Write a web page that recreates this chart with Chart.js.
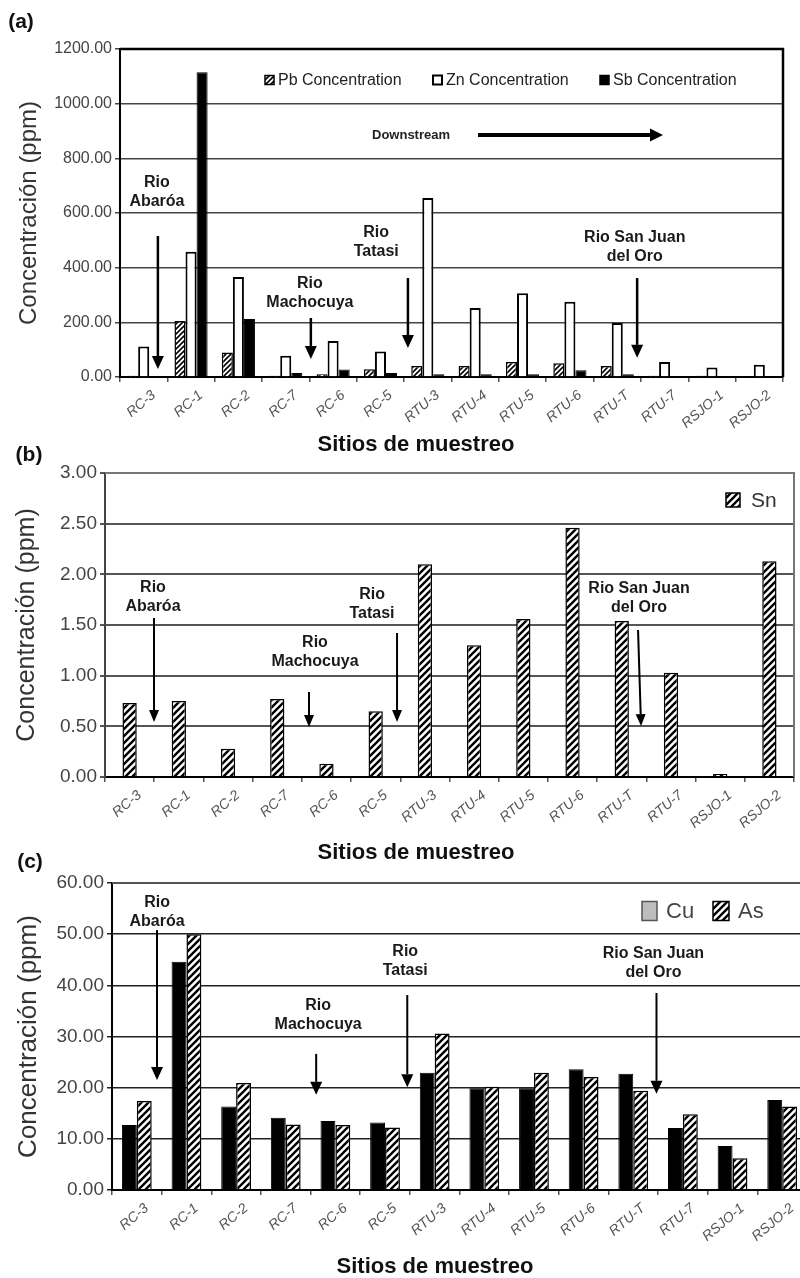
<!DOCTYPE html>
<html><head><meta charset="utf-8">
<script src="https://cdn.jsdelivr.net/npm/chart.js@4.4.0/dist/chart.umd.min.js"></script>
<style>
html,body{margin:0;padding:0;background:#fff;overflow:hidden;width:800px;height:1278px;}
.p{position:absolute;left:0;}
</style></head><body>
<div class="p" style="top:0;width:800px;height:456px"><canvas id="ca"></canvas></div>
<div class="p" style="top:440px;width:800px;height:424px"><canvas id="cb"></canvas></div>
<div class="p" style="top:845px;width:812px;height:433px"><canvas id="cc"></canvas></div>
<script>
// ---------- data ----------
const sites = ['RC-3','RC-1','RC-2','RC-7','RC-6','RC-5','RTU-3','RTU-4','RTU-5','RTU-6','RTU-T','RTU-7','RSJO-1','RSJO-2'];
const pbConc = [5,205,90,5,10,28,40,40,55,50,40,5,5,3];
const znConc = [112,458,366,78,132,93,655,252,306,275,198,55,35,45];
const sbConc = [3,1115,212,15,27,15,10,10,10,25,10,3,2,2];
const snConc = [0.73,0.75,0.28,0.77,0.13,0.65,2.10,1.30,1.56,2.46,1.54,1.03,0.03,2.13];
const cuConc = [12.7,44.6,16.3,14.1,13.5,13.2,22.9,19.9,19.9,23.6,22.7,12.1,8.6,17.6];
const asConc = [17.4,50.0,20.9,12.8,12.7,12.2,30.6,20.2,22.9,22.1,19.4,14.8,6.2,16.3];
const yAxisA = [0, 1200, 200];
const yAxisB = [0, 3, 0.5];
const yAxisC = [0, 60, 10];
const yTitle = 'Concentración (ppm)';
const xTitle = 'Sitios de muestreo';

const FONT = '"Liberation Sans", Arial, sans-serif';

function hatch(period, lw, bg) {
  const c = document.createElement('canvas'); c.width = c.height = period;
  const g = c.getContext('2d');
  g.fillStyle = bg; g.fillRect(0, 0, period, period);
  g.strokeStyle = '#000'; g.lineWidth = lw;
  g.beginPath();
  g.moveTo(-1, period + 1); g.lineTo(period + 1, -1);
  g.moveTo(-period / 2 - 1, period / 2 + 1); g.lineTo(period / 2 + 1, -period / 2 - 1);
  g.moveTo(period / 2 - 1, period * 1.5 + 1); g.lineTo(period * 1.5 + 1, period / 2 - 1);
  g.stroke();
  return g.createPattern(c, 'repeat');
}
const hatchPat = hatch(7, 2.4, '#fff');
const hatchSmall = hatch(5, 1.6, '#fff');

function arrow(ctx, x1, y1, x2, y2, lw, hl, hw) {
  const a = Math.atan2(y2 - y1, x2 - x1), c = Math.cos(a), s = Math.sin(a);
  ctx.lineWidth = lw; ctx.strokeStyle = '#000'; ctx.fillStyle = '#000';
  ctx.beginPath(); ctx.moveTo(x1, y1); ctx.lineTo(x2 - hl * c, y2 - hl * s); ctx.stroke();
  ctx.beginPath(); ctx.moveTo(x2, y2);
  ctx.lineTo(x2 - hl * c + hw / 2 * s, y2 - hl * s - hw / 2 * c);
  ctx.lineTo(x2 - hl * c - hw / 2 * s, y2 - hl * s + hw / 2 * c);
  ctx.closePath(); ctx.fill();
}

function makeDecor(o, datasets) {
  return {
    id: 'decor',
    afterDatasetsDraw(chart) {
      const {ctx, chartArea: ca, scales: {y}} = chart;
      const n = chart.data.labels.length, cw = ca.width / n;
      const X = i => ca.left + (i + 0.5) * cw;
      const Y = v => y.getPixelForValue(v);
      ctx.save();
      // frame (top + right)
      ctx.strokeStyle = o.frameColor; ctx.lineWidth = o.frameWidth;
      ctx.beginPath(); ctx.moveTo(ca.left, ca.top); ctx.lineTo(ca.right, ca.top); ctx.lineTo(ca.right, ca.bottom); ctx.stroke();
      // annotations
      ctx.fillStyle = '#1a1a1a'; ctx.textAlign = 'center'; ctx.textBaseline = 'middle';
      ctx.font = 'bold 16px ' + FONT;
      for (const a of o.notes) a.lines.forEach((t, k) => ctx.fillText(t, X(a.x), Y(a.y) + k * 19));
      for (const r of o.arrows) arrow(ctx, X(r[0]), Y(r[1]), X(r[2]), Y(r[3]), o.arrowLw, o.headL, o.headW);
      if (o.down) {
        ctx.font = 'bold 13px ' + FONT; ctx.fillStyle = '#222';
        ctx.fillText(o.down.text, X(o.down.x), Y(o.down.y));
        arrow(ctx, X(o.down.x1), Y(o.down.y), X(o.down.x2), Y(o.down.y), 4, 13, 13);
      }
      // legend
      ctx.font = o.legend.font + ' ' + FONT; ctx.textAlign = 'left'; ctx.textBaseline = 'middle';
      for (const it of o.legend.items) {
        const ds = datasets[it.i];
        ctx.fillStyle = it.fill ? it.fill : ds.backgroundColor;
        ctx.fillRect(it.x, o.legend.y - it.h / 2, it.w, it.h);
        ctx.lineWidth = it.lw || 1.5; ctx.strokeStyle = it.stroke ? it.stroke : '#000';
        ctx.strokeRect(it.x, o.legend.y - it.h / 2, it.w, it.h);
        ctx.fillStyle = o.legend.color;
        ctx.fillText(ds.label, it.x + it.w + o.legend.gap, o.legend.y + 1);
      }
      // x title
      ctx.font = 'bold 22px ' + FONT; ctx.fillStyle = '#111'; ctx.textAlign = 'center';
      ctx.fillText(xTitle, o.xt[0], o.xt[1]);
      // panel label
      ctx.font = 'bold 21px ' + FONT;
      ctx.fillText(o.panel[0], o.panel[1], o.panel[2]);
      ctx.restore();
    }
  };
}

function makeChart(id, c) {
  return new Chart(document.getElementById(id), {
    type: 'bar',
    data: {labels: sites, datasets: c.datasets},
    options: {
      responsive: true, maintainAspectRatio: false, animation: false, devicePixelRatio: 1,
      layout: {padding: c.padding},
      datasets: {bar: {categoryPercentage: c.catPct, barPercentage: c.barPct}},
      plugins: {legend: {display: false}, tooltip: {enabled: false}},
      scales: {
        x: {
          afterFit: s => { s.height = c.xHeight; },
          grid: {display: true, drawOnChartArea: false, drawTicks: true, tickLength: 5, offset: true, color: '#555', lineWidth: 1.5},
          border: {display: true, color: '#000', width: 2},
          ticks: {autoSkip: false, minRotation: 40, maxRotation: 40, labelOffset: 10, padding: 5,
            color: '#555', font: {family: FONT, size: 14, style: 'italic'}}
        },
        y: {
          afterFit: s => { s.width = c.yWidth; },
          min: c.yAxis[0], max: c.yAxis[1],
          grid: {color: c.gridColor, lineWidth: c.gridWidth, tickLength: 5},
          border: {display: true, color: c.axisColor, width: 2},
          ticks: {stepSize: c.yAxis[2], padding: 3, color: '#444', font: {family: FONT, size: c.tickSize},
            callback: v => Number(v).toFixed(2)},
          title: {display: true, text: yTitle, color: '#333', font: {family: FONT, size: c.titleSize}, padding: {top: c.titlePad, bottom: 0}}
        }
      }
    },
    plugins: [makeDecor(c.decor, c.datasets)]
  });
}

// ---------- (a) ----------
makeChart('ca', {
  datasets: [
    {label: 'Pb Concentration', data: pbConc, backgroundColor: hatchSmall, borderColor: '#000', borderWidth: 1.5},
    {label: 'Zn Concentration', data: znConc, backgroundColor: '#fff', borderColor: '#000', borderWidth: 2},
    {label: 'Sb Concentration', data: sbConc, backgroundColor: '#000', borderColor: '#000', borderWidth: 1}
  ],
  padding: {left: 0, top: 49, right: 17, bottom: 0},
  xHeight: 79, yWidth: 120, catPct: 0.7, barPct: 1.0, yAxis: yAxisA,
  gridColor: '#444', gridWidth: 1.5, axisColor: '#000', tickSize: 16, titleSize: 24, titlePad: 15,
  decor: {
    frameColor: '#000', frameWidth: 2.5, arrowLw: 2.5, headL: 13, headW: 12,
    notes: [
      {lines: ['Rio', 'Abaróa'], x: 0.28, y: 713},
      {lines: ['Rio', 'Machocuya'], x: 3.51, y: 340},
      {lines: ['Rio', 'Tatasi'], x: 4.91, y: 527},
      {lines: ['Rio San Juan', 'del Oro'], x: 10.37, y: 509}
    ],
    arrows: [[0.30, 516, 0.30, 29], [3.53, 216, 3.53, 66], [5.58, 362, 5.58, 106], [10.42, 362, 10.42, 70]],
    down: {text: 'Downstream', x: 5.645, x1: 7.06, x2: 10.966, y: 885},
    legend: {font: '16px', color: '#222', y: 80, gap: 4, items: [
      {i: 0, x: 265, w: 9, h: 9}, {i: 1, x: 433, w: 9, h: 9, lw: 2}, {i: 2, x: 600, w: 9, h: 9}]},
    xt: [416, 445], panel: ['(a)', 21, 22]
  }
});

// ---------- (b) ----------
makeChart('cb', {
  datasets: [
    {label: 'Sn', data: snConc, backgroundColor: hatchPat, borderColor: '#000', borderWidth: 1.5}
  ],
  padding: {left: 0, top: 33, right: 6, bottom: 0},
  xHeight: 87, yWidth: 105, catPct: 1.0, barPct: 0.29, yAxis: yAxisB,
  gridColor: '#555', gridWidth: 2, axisColor: '#444', tickSize: 19, titleSize: 25, titlePad: 12,
  decor: {
    frameColor: '#777', frameWidth: 2, arrowLw: 2, headL: 12, headW: 10,
    notes: [
      {lines: ['Rio', 'Abaróa'], x: 0.475, y: 1.865},
      {lines: ['Rio', 'Machocuya'], x: 3.767, y: 1.322},
      {lines: ['Rio', 'Tatasi'], x: 4.926, y: 1.796},
      {lines: ['Rio San Juan', 'del Oro'], x: 10.351, y: 1.855}
    ],
    arrows: [[0.496, 1.569, 0.496, 0.543], [3.645, 0.839, 3.645, 0.493], [5.434, 1.421, 5.434, 0.543], [10.331, 1.451, 10.392, 0.503]],
    legend: {font: '21px', color: '#333', y: 60, gap: 11, items: [{i: 0, x: 726, w: 14, h: 14}]},
    xt: [416, 413], panel: ['(b)', 29, 15]
  }
});

// ---------- (c) ----------
makeChart('cc', {
  datasets: [
    {label: 'Cu', data: cuConc, backgroundColor: '#000', borderColor: '#000', borderWidth: 1},
    {label: 'As', data: asConc, backgroundColor: hatchPat, borderColor: '#000', borderWidth: 1.5}
  ],
  padding: {left: 0, top: 38, right: 5, bottom: 0},
  xHeight: 88, yWidth: 112, catPct: 0.6, barPct: 1.0, yAxis: yAxisC,
  gridColor: '#222', gridWidth: 1.5, axisColor: '#000', tickSize: 19, titleSize: 26, titlePad: 13,
  decor: {
    frameColor: '#555', frameWidth: 2, arrowLw: 2, headL: 13, headW: 12,
    notes: [
      {lines: ['Rio', 'Abaróa'], x: 0.407, y: 56.1},
      {lines: ['Rio', 'Machocuya'], x: 3.653, y: 35.96},
      {lines: ['Rio', 'Tatasi'], x: 5.407, y: 46.5},
      {lines: ['Rio San Juan', 'del Oro'], x: 10.407, y: 46.3}
    ],
    arrows: [[0.407, 50.8, 0.407, 21.5], [3.613, 26.6, 3.613, 18.6], [5.448, 38.1, 5.448, 20.1], [10.468, 38.5, 10.468, 18.8]],
    legend: {font: '22px', color: '#444', y: 66, gap: 9, items: [
      {i: 0, x: 642, w: 15, h: 19, fill: '#bdbdbd', stroke: '#555'}, {i: 1, x: 713, w: 16, h: 19}]},
    xt: [435, 422], panel: ['(c)', 30, 17]
  }
});
</script>
</body></html>
